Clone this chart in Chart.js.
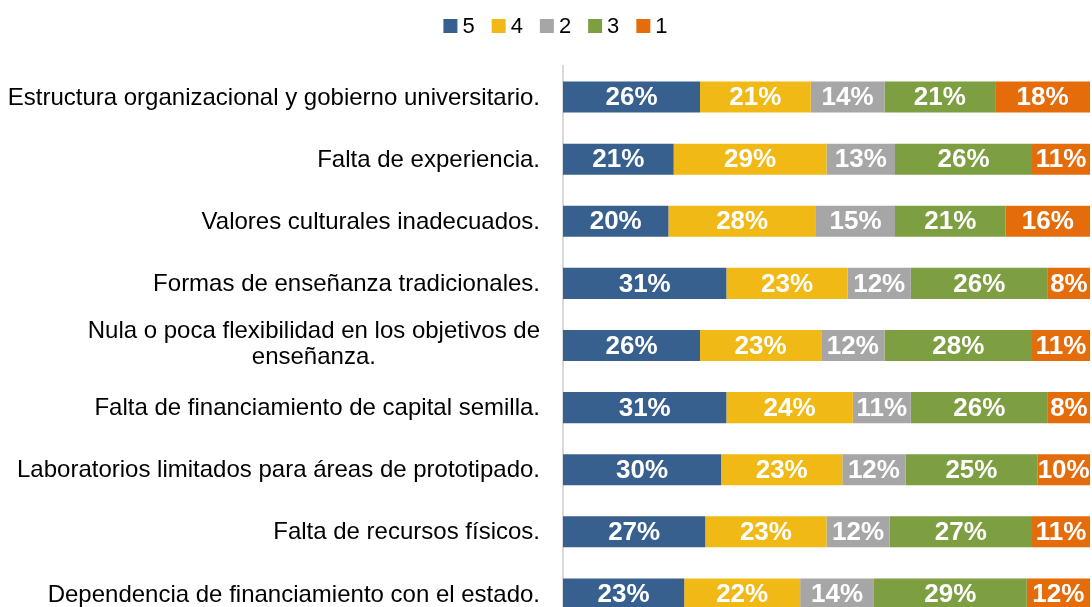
<!DOCTYPE html>
<html>
<head>
<meta charset="utf-8">
<script src="https://cdn.jsdelivr.net/npm/chart.js@4.4.1/dist/chart.umd.min.js"></script>
<style>
html,body{margin:0;padding:0;background:#fff;overflow:hidden;}
#wrap{position:relative;width:1092px;height:640px;}
</style>
</head>
<body>
<div id="wrap"><canvas id="c"></canvas></div>
<script>
const categories = [
  "Estructura organizacional y gobierno universitario.",
  "Falta de experiencia.",
  "Valores culturales inadecuados.",
  "Formas de enseñanza tradicionales.",
  ["Nula o poca flexibilidad en los objetivos de", "enseñanza."],
  "Falta de financiamiento de capital semilla.",
  "Laboratorios limitados para áreas de prototipado.",
  "Falta de recursos físicos.",
  "Dependencia de financiamiento con el estado."
];
const seriesNames = ["5", "4", "2", "3", "1"];
const s5 = [26, 21, 20, 31, 26, 31, 30, 27, 23];
const s4 = [21, 29, 28, 23, 23, 24, 23, 23, 22];
const s2 = [14, 13, 15, 12, 12, 11, 12, 12, 14];
const s3 = [21, 26, 21, 26, 28, 26, 25, 27, 29];
const s1 = [18, 11, 16, 8, 11, 8, 10, 11, 12];
const colors = ["#37608F", "#F0B915", "#A6A6A6", "#7E9E42", "#E46C0A"];

const FONT = "'Liberation Sans', Arial, sans-serif";

const dataLabelPlugin = {
  id: 'dataLabels',
  afterDatasetsDraw(chart) {
    const ctx = chart.ctx;
    ctx.save();
    ctx.font = "bold 26px " + FONT;
    ctx.fillStyle = "#ffffff";
    ctx.textAlign = "center";
    ctx.textBaseline = "middle";
    chart.data.datasets.forEach((ds, di) => {
      const meta = chart.getDatasetMeta(di);
      meta.data.forEach((bar, i) => {
        const cx = (bar.x + bar.base) / 2;
        ctx.fillText(ds.data[i] + "%", cx, bar.y + 1);
      });
    });
    ctx.restore();
  }
};

const yLabelPlugin = {
  id: 'yLabels',
  afterDraw(chart) {
    const ctx = chart.ctx;
    const ys = chart.scales.y;
    ctx.save();
    ctx.font = "24px " + FONT;
    ctx.fillStyle = "#000000";
    ctx.textAlign = "center";
    ctx.textBaseline = "middle";
    const right = chart.chartArea.left - 23;
    const lh = 26;
    chart.data.labels.forEach((lab, i) => {
      const lines = Array.isArray(lab) ? lab : [lab];
      const w = Math.max(...lines.map(l => ctx.measureText(l).width));
      const cx = right - w / 2;
      const off = lines.length > 1 ? -2 : 0;
      const y0 = ys.getPixelForValue(i) - (lines.length - 1) * lh / 2 + off;
      lines.forEach((l, k) => ctx.fillText(l, cx, y0 + k * lh + 1));
    });
    ctx.restore();
  }
};

const legendPlugin = {
  id: 'customLegend',
  afterDraw(chart) {
    const ctx = chart.ctx;
    ctx.save();
    ctx.font = "22px " + FONT;
    ctx.textBaseline = "middle";
    ctx.textAlign = "left";
    const box = 14, gap = 5, spacing = 17;
    const items = chart.data.datasets.map(ds => ({
      text: ds.label, color: ds.backgroundColor,
      w: box + gap + ctx.measureText(ds.label).width
    }));
    const total = items.reduce((a, it) => a + it.w, 0) + spacing * (items.length - 1);
    let x = 555.5 - total / 2;
    const cy = 26;
    items.forEach(it => {
      ctx.fillStyle = it.color;
      ctx.fillRect(x, cy - box / 2, box, box);
      ctx.fillStyle = "#000";
      ctx.fillText(it.text, x + box + gap, cy + 1);
      x += it.w + spacing;
    });
    ctx.restore();
  }
};

const seriesData = [s5, s4, s2, s3, s1];

new Chart(document.getElementById('c'), {
  type: 'bar',
  data: {
    labels: categories,
    datasets: seriesNames.map((n, k) => ({
      label: n,
      data: seriesData[k],
      backgroundColor: colors[k],
      borderWidth: 0,
      categoryPercentage: 1,
      barPercentage: 0.5
    }))
  },
  options: {
    indexAxis: 'y',
    responsive: true,
    maintainAspectRatio: false,
    animation: false,
    layout: { padding: { top: 66, right: 2, bottom: 15, left: 0 } },
    plugins: {
      legend: { display: false },
      tooltip: { enabled: false }
    },
    scales: {
      x: {
        stacked: true,
        min: 0,
        max: 100,
        display: false
      },
      y: {
        stacked: true,
        grid: { display: false, drawTicks: false },
        border: { display: true, color: '#d9d9d9', width: 2 },
        ticks: { display: false },
        afterFit(scale) { scale.width = 563; }
      }
    }
  },
  plugins: [dataLabelPlugin, yLabelPlugin, legendPlugin]
});
</script>
</body>
</html>
